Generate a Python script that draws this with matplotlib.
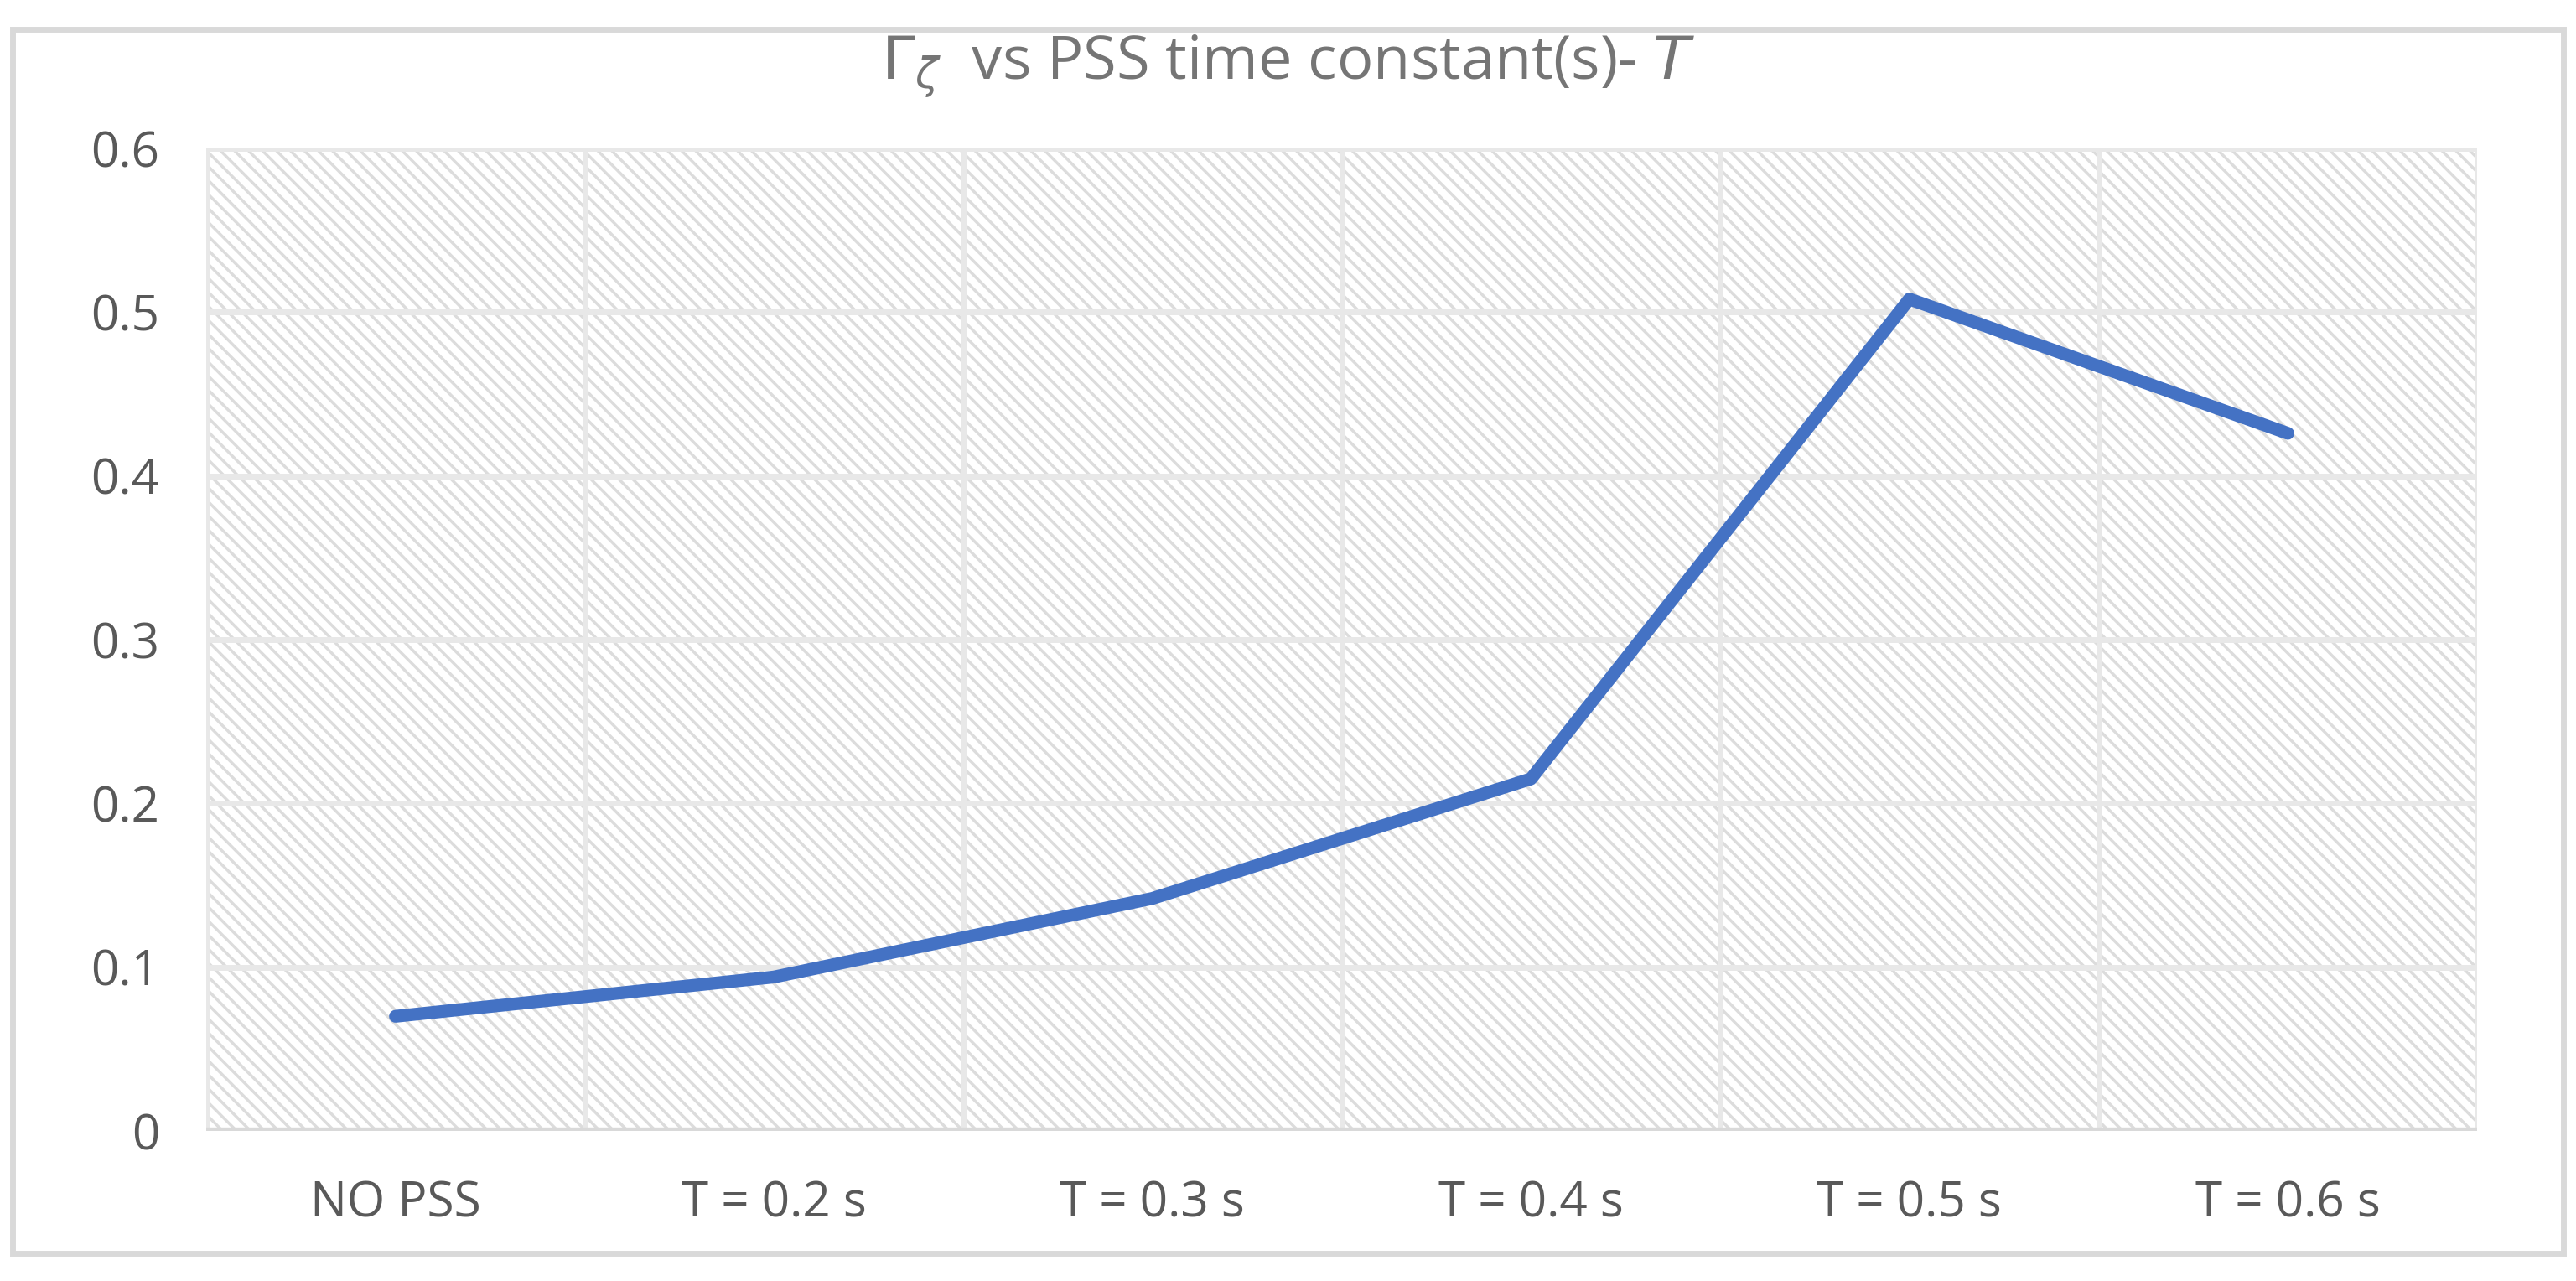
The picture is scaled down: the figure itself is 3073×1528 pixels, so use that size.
import matplotlib
matplotlib.use("Agg")
import matplotlib.pyplot as plt
from matplotlib.patches import Rectangle

categories = ["NO PSS", "T = 0.2 s", "T = 0.3 s", "T = 0.4 s", "T = 0.5 s", "T = 0.6 s"]
values = [0.070, 0.094, 0.142, 0.215, 0.508, 0.426]
yticks = [0, 0.1, 0.2, 0.3, 0.4, 0.5, 0.6]

W, H = 3073, 1528
fig = plt.figure(figsize=(W/100, H/100), dpi=100)
plt.rcParams['hatch.color'] = '#dcdcdc'
plt.rcParams['hatch.linewidth'] = 2.5
fig.patches.append(Rectangle((15/W, 1-1495/H), (3058-15)/W, (1495-35)/H,
                             transform=fig.transFigure, fill=False, edgecolor='#d9d9d9', lw=5))
ax = fig.add_axes([246/W, 1-1349/H, (2955-246)/W, (1349-177)/H])
ax.set_xlim(-0.5, len(categories)-0.5)
ax.set_ylim(0, 0.6)
ax.add_patch(Rectangle((0, 0), 1, 1, transform=ax.transAxes, facecolor='white',
                       hatch='\\\\', edgecolor='#dcdcdc', lw=0, zorder=0))
for y in yticks:
    ax.axhline(y, color='#e8e8e8', lw=5, zorder=1)
for i in range(len(categories)+1):
    ax.axvline(i-0.5, color='#e8e8e8', lw=5, zorder=1)
ax.plot(range(len(categories)), values, color='#4472c4', lw=11, solid_capstyle='round', zorder=3)
for s in ax.spines.values():
    s.set_visible(False)
ax.axhline(0, color='#d9d9d9', lw=6, zorder=2)
ax.set_xticks(range(len(categories)))
ax.set_xticklabels(categories)
ax.set_yticks(yticks)
ax.set_yticklabels([f"{v:g}" for v in yticks])
ax.tick_params(length=0, labelsize=42, colors='#595959')
for lab in ax.get_xticklabels()+ax.get_yticklabels():
    lab.set_family('Open Sans')
ax.tick_params(axis='y', pad=40)
ax.tick_params(axis='x', pad=42)
fig.text(0.5, 1-80/H, r"$\mathit{\Gamma}_{\zeta}$  vs PSS time constant(s)- $\mathit{T}$",
         ha='center', va='center', fontsize=52, color='#757575', family='Open Sans')
fig.savefig("out.png", dpi=100)
